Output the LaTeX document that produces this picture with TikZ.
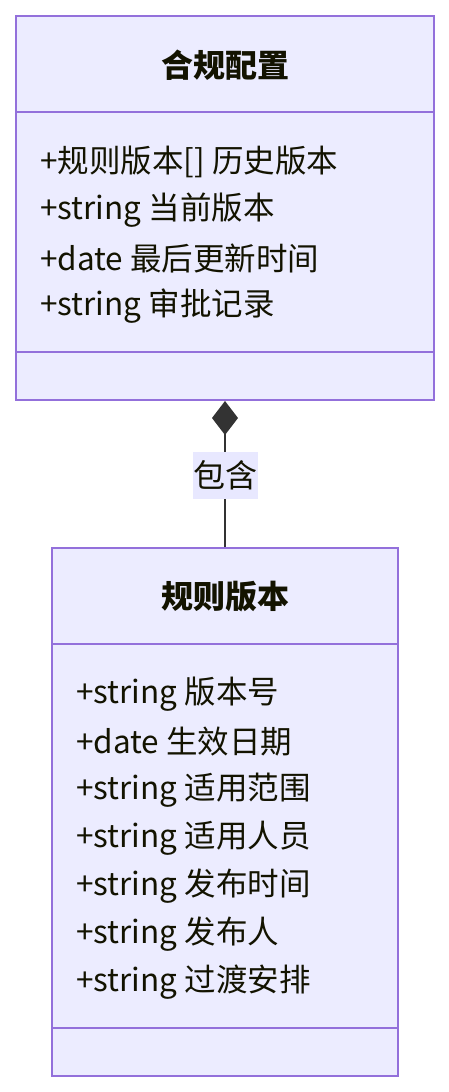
\documentclass[tikz,border=0pt]{standalone}
\usepackage{fontspec}
\setmainfont{Noto Sans CJK SC}
\usetikzlibrary{arrows.meta}
\definecolor{boxfill}{HTML}{ECECFF}
\definecolor{boxline}{HTML}{9370DB}
\definecolor{edgecol}{HTML}{333333}
\definecolor{txt}{HTML}{131300}
\definecolor{lblfill}{HTML}{E8E8FF}
\tikzset{
  classbox/.style={draw=boxline, fill=boxfill, line width=2pt, inner sep=0pt, rectangle},
  classtitle/.style={inner sep=0pt, font=\fontsize{32}{40}\selectfont\bfseries, text=txt},
  member/.style={anchor=west, inner sep=0pt, font=\fontsize{31.5}{40}\selectfont, text=txt},
  divider/.style={draw=boxline, line width=2pt},
  lbl/.style={fill=lblfill, inner sep=0pt, minimum width=65pt, minimum height=47pt, font=\fontsize{32}{40}\selectfont, text=txt},
}
\begin{document}
\begin{tikzpicture}[x=1pt,y=-1pt]
\useasboundingbox[fill=white] (0,0) rectangle (449,1092);
% class 1
\node[classbox, minimum width=418pt, minimum height=384pt] (c1) at (225,208) {};
\node[classtitle] (t1) at (225,65) {合规配置};
\draw[divider] (c1.west |- 0,112) coordinate (d1a) -- (c1.east |- 0,112) coordinate (d1b);
\draw[divider] (c1.west |- 0,352) coordinate (d1c) -- (c1.east |- 0,352) coordinate (d1d);
\node[member] (m11) at (40,162) {+规则版本[] 历史版本};
\node[member] (m12) at (40,210) {+string 当前版本};
\node[member] (m13) at (40,258) {+date 最后更新时间};
\node[member] (m14) at (40,306) {+string 审批记录};
% class 2
\node[classbox, minimum width=346pt, minimum height=528pt] (c2) at (225,812) {};
\node[classtitle] (t2) at (225,597) {规则版本};
\draw[divider] (c2.west |- 0,644) coordinate (d2a) -- (c2.east |- 0,644) coordinate (d2b);
\draw[divider] (c2.west |- 0,1028) coordinate (d2c) -- (c2.east |- 0,1028) coordinate (d2d);
\node[member] (m21) at (76,694) {+string 版本号};
\node[member] (m22) at (76,742) {+date 生效日期};
\node[member] (m23) at (76,790) {+string 适用范围};
\node[member] (m24) at (76,838) {+string 适用人员};
\node[member] (m25) at (76,886) {+string 发布时间};
\node[member] (m26) at (76,934) {+string 发布人};
\node[member] (m27) at (76,982) {+string 过渡安排};
% composition
\draw[edgecol, line width=2pt, -{Diamond[length=34pt,width=26pt]}] (c2.north) -- node[lbl, yshift=-1pt] (l1) {包含} (c1.south);
\end{tikzpicture}
\end{document}
